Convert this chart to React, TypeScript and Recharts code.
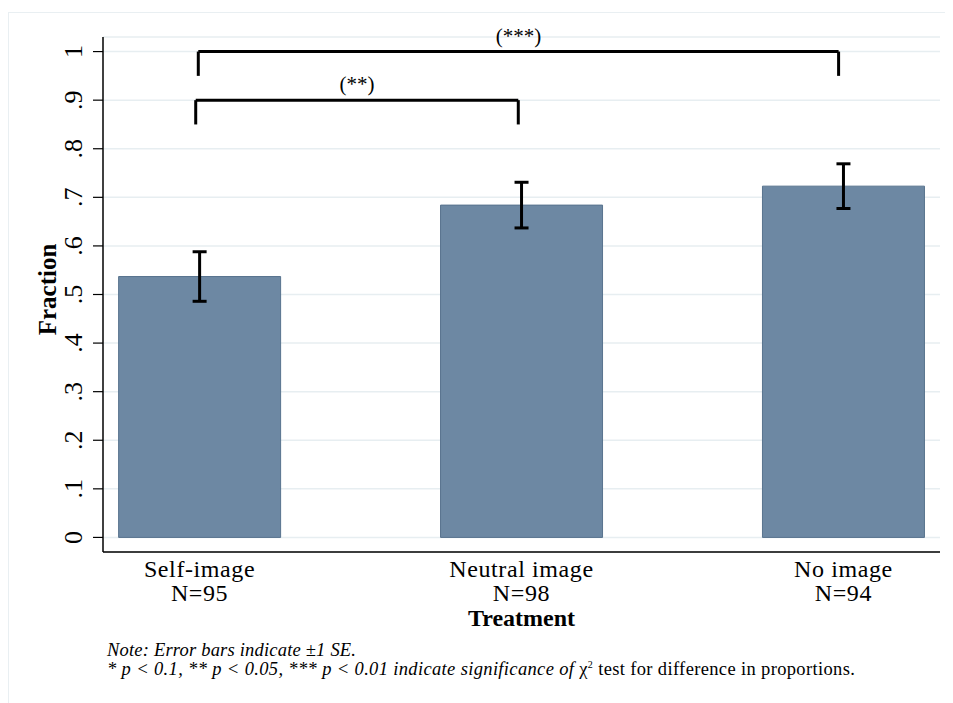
import React from 'react';
import {
  ComposedChart,
  Bar,
  ErrorBar,
  XAxis,
  YAxis,
  CartesianGrid,
  ReferenceLine,
} from 'recharts';

// data
const treatments = ['Self-image', 'Neutral image', 'No image'];
const sampleSizes = [95, 98, 94];
const positions = [1, 2, 3];
const fractions = [0.537, 0.684, 0.723];
const standardErrors = [0.051, 0.047, 0.046];

const yTicks = [0, 0.1, 0.2, 0.3, 0.4, 0.5, 0.6, 0.7, 0.8, 0.9, 1];

// significance brackets
const bracketLabels = ['(***)', '(**)'];
const bracketFrom = [0.996, 0.988];
const bracketTo = [2.985, 1.99];
const bracketTop = [1.0, 0.9];
const bracketFoot = [0.95, 0.85];

const BAR_COLOR = '#6d88a3';
const BAR_EDGE = '#58738e';
const GRID_COLOR = '#e7eef1';
const FONT = '"Liberation Serif", "Times New Roman", serif';

const rows = positions.map((x, i) => ({
  x,
  name: treatments[i],
  n: sampleSizes[i],
  fraction: fractions[i],
  se: standardErrors[i],
}));

const fmtTick = (v: number) => {
  if (v === 0) return '0';
  if (v === 1) return '1';
  return '.' + Math.round(v * 10);
};

const YTick = (props: any) => {
  const { x, y, payload } = props;
  const bx = x - 9;
  return (
    <text
      x={bx}
      y={y}
      transform={`rotate(-90, ${bx}, ${y})`}
      textAnchor="middle"
      fontFamily={FONT}
      fontSize={26}
      fill="#000"
    >
      {fmtTick(payload.value)}
    </text>
  );
};

const XTick = (props: any) => {
  const { x, y, payload } = props;
  const i = positions.indexOf(payload.value);
  if (i < 0) return null;
  return (
    <text textAnchor="middle" fontFamily={FONT} fontSize={24} fill="#000" letterSpacing={0.6}>
      <tspan x={x} y={y + 17}>{treatments[i]}</tspan>
      <tspan x={x} y={y + 41}>N={sampleSizes[i]}</tspan>
    </text>
  );
};

const FractionLabel = (props: any) => {
  const vb = props.viewBox || { x: 0, y: 29, width: 95, height: 515 };
  const lx = vb.x + 48;
  const ly = vb.y + vb.height / 2 - 5;
  return (
    <text
      x={lx}
      y={ly}
      transform={`rotate(-90, ${lx}, ${ly})`}
      textAnchor="middle"
      fontFamily={FONT}
      fontWeight="bold"
      fontSize={25}
      fill="#000"
    >
      Fraction
    </text>
  );
};

const TreatmentLabel = (props: any) => {
  const vb = props.viewBox || { x: 95, y: 544, width: 837, height: 96 };
  return (
    <text
      x={vb.x + vb.width / 2}
      y={vb.y + 74}
      textAnchor="middle"
      fontFamily={FONT}
      fontWeight="bold"
      fontSize={24}
      fill="#000"
    >
      Treatment
    </text>
  );
};

export default function App() {
  return (
    <div style={{ position: 'relative', width: 945, height: 695, background: '#fff', fontFamily: FONT }}>
      <div
        style={{
          position: 'absolute',
          left: 0,
          top: 4,
          width: 945,
          height: 691,
          borderLeft: '1.5px solid #e9eff2',
          borderTop: '1.5px solid #e9eff2',
          boxSizing: 'border-box',
        }}
      />
      <div style={{ position: 'absolute', left: 0, top: 0 }}>
        <ComposedChart
          width={945}
          height={640}
          data={rows}
          margin={{ top: 29, right: 13, bottom: 0, left: 0 }}
        >
          <CartesianGrid horizontal vertical={false} stroke={GRID_COLOR} strokeWidth={1.5} />
          <XAxis
            type="number"
            dataKey="x"
            domain={[0.7, 3.3]}
            ticks={positions}
            allowDataOverflow
            tickLine={false}
            axisLine={{ stroke: '#000', strokeWidth: 1.5 }}
            tick={<XTick />}
            height={96}
            label={<TreatmentLabel />}
          />
          <YAxis
            type="number"
            domain={[-0.03, 1.03]}
            ticks={yTicks}
            allowDataOverflow
            width={95}
            tickSize={10}
            tickLine={{ stroke: '#000', strokeWidth: 1.2 }}
            axisLine={{ stroke: '#000', strokeWidth: 1.5 }}
            tick={<YTick />}
            label={<FractionLabel />}
          />
          <Bar
            dataKey="fraction"
            fill={BAR_COLOR}
            stroke={BAR_EDGE}
            strokeWidth={1}
            barSize={162}
            isAnimationActive={false}
          >
            <ErrorBar dataKey="se" width={7} strokeWidth={3} stroke="#000" direction="y" />
          </Bar>
          {bracketLabels.map((lab, i) => (
            <ReferenceLine
              key={'h' + i}
              segment={[
                { x: bracketFrom[i], y: bracketTop[i] },
                { x: bracketTo[i], y: bracketTop[i] },
              ]}
              stroke="#000"
              strokeWidth={3}
              ifOverflow="visible"
              label={{ value: lab, position: 'top', offset: 9, fontSize: 21, fill: '#000', fontFamily: FONT }}
            />
          ))}
          {bracketLabels.map((lab, i) => (
            <ReferenceLine
              key={'l' + i}
              segment={[
                { x: bracketFrom[i], y: bracketTop[i] },
                { x: bracketFrom[i], y: bracketFoot[i] },
              ]}
              stroke="#000"
              strokeWidth={3}
              ifOverflow="visible"
            />
          ))}
          {bracketLabels.map((lab, i) => (
            <ReferenceLine
              key={'r' + i}
              segment={[
                { x: bracketTo[i], y: bracketTop[i] },
                { x: bracketTo[i], y: bracketFoot[i] },
              ]}
              stroke="#000"
              strokeWidth={3}
              ifOverflow="visible"
            />
          ))}
        </ComposedChart>
      </div>
      <div
        style={{
          position: 'absolute',
          left: 99,
          top: 633,
          fontSize: 18.5,
          lineHeight: '19px',
          color: '#000',
          whiteSpace: 'nowrap',
        }}
      >
        <div style={{ fontStyle: 'italic', letterSpacing: 0.2 }}>Note: Error bars indicate ±1 SE.</div>
        <div style={{ letterSpacing: 0.35 }}>
          <span style={{ fontStyle: 'italic' }}>
            * p &lt; 0.1, ** p &lt; 0.05, *** p &lt; 0.01 indicate significance of{' '}
          </span>
          <span>
            χ<sup style={{ fontSize: 10, lineHeight: 0 }}>2</sup> test for difference in proportions.
          </span>
        </div>
      </div>
    </div>
  );
}
